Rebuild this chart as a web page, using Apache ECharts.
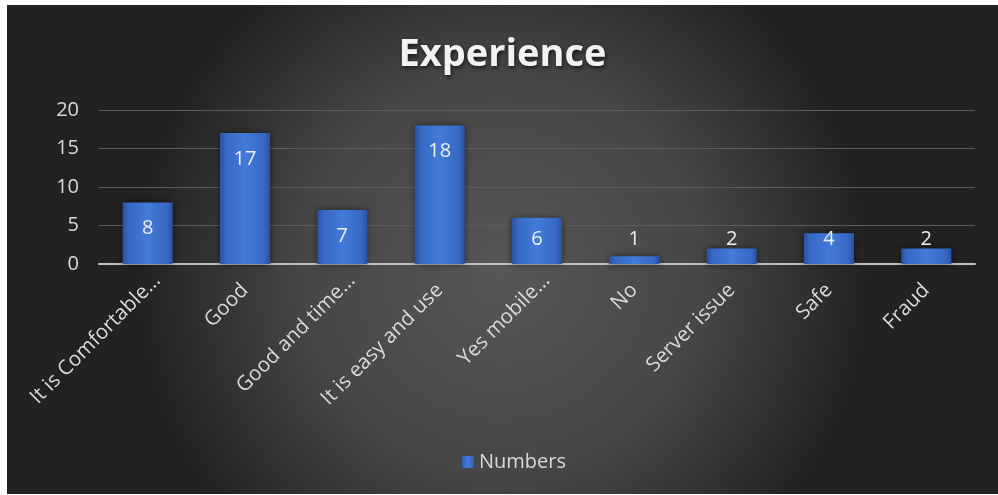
<!DOCTYPE html>
<html>
<head>
<meta charset="utf-8">
<script src="https://cdn.jsdelivr.net/npm/echarts@6/dist/echarts.min.js"></script>
<style>
  html, body { margin: 0; padding: 0; background: #ffffff; }
  #chart { position: absolute; left: 7px; top: 5px; width: 991px; height: 489px; }
</style>
</head>
<body>
<div id="chart"></div>
<script>
// Survey responses: reported experience
const categories = [
  'It is Comfortable\u2026',
  'Good',
  'Good and time\u2026',
  'It is easy and use',
  'Yes mobile\u2026',
  'No',
  'Server issue',
  'Safe',
  'Fraud'
];
const numbers = [8, 17, 7, 18, 6, 1, 2, 4, 2];
const yTicks = [0, 5, 10, 15, 20];

const FONT = '"Open Sans", "DejaVu Sans", sans-serif';
const TEXT = '#d9d9d9';

const gridTop = 105;
const gridBottom = 230;
const chartHeight = 489;
const yMax = yTicks[yTicks.length - 1];
const pxPerUnit = (chartHeight - gridTop - gridBottom) / yMax;

// Value labels sit just inside the bar top; on short bars they stay at a fixed height above the axis
function labelFor(v) {
  const h = v * pxPerUnit;
  const y = Math.min(26, h - 25);
  return {
    position: ['50%', y],
    align: 'center',
    verticalAlign: 'middle'
  };
}

// Shortened (ellipsized) category names are nudged a little to the right
function categoryItem(name) {
  if (name.endsWith('\u2026')) {
    return { value: name, textStyle: { padding: [27, -13.5, 0, 0] } };
  }
  return name;
}

const barFill = new echarts.graphic.LinearGradient(0, 0, 1, 0, [
  { offset: 0, color: '#2a52a0' },
  { offset: 0.12, color: '#3768c4' },
  { offset: 0.5, color: '#437bd9' },
  { offset: 0.88, color: '#3768c4' },
  { offset: 1, color: '#2a52a0' }
]);

const chart = echarts.init(document.getElementById('chart'));
chart.setOption({
  backgroundColor: new echarts.graphic.RadialGradient(0.5, 0.55, 0.75, [
    { offset: 0, color: '#575757' },
    { offset: 0.55, color: '#464646' },
    { offset: 1, color: '#222222' }
  ]),
  title: {
    text: 'Experience',
    left: 'center',
    top: 26,
    textStyle: {
      fontFamily: FONT,
      fontSize: 38,
      fontWeight: 'bold',
      color: '#f2f2f2',
      textShadowColor: 'rgba(0,0,0,0.65)',
      textShadowBlur: 4,
      textShadowOffsetX: 1,
      textShadowOffsetY: 2
    }
  },
  legend: {
    bottom: 17,
    left: 450,
    icon: 'rect',
    itemWidth: 12,
    itemHeight: 12,
    itemGap: 6,
    textStyle: { fontFamily: FONT, fontSize: 20, color: TEXT },
    data: ['Numbers']
  },
  grid: {
    left: 92,
    right: 23,
    top: gridTop,
    bottom: gridBottom,
    containLabel: false
  },
  xAxis: {
    type: 'category',
    data: categories.map(categoryItem),
    axisLine: { show: true, lineStyle: { color: '#bfbfbf', width: 2 } },
    axisTick: { show: false },
    axisLabel: {
      rotate: 45,
      interval: 0,
      margin: 23,
      fontFamily: FONT,
      fontSize: 20.5,
      color: TEXT
    }
  },
  yAxis: {
    type: 'value',
    min: 0,
    max: yMax,
    interval: 5,
    axisLine: { show: false },
    axisTick: { show: false },
    axisLabel: {
      margin: 20,
      fontFamily: FONT,
      fontSize: 20,
      color: TEXT
    },
    splitLine: { lineStyle: { color: '#5c5c5c', width: 1 } }
  },
  series: [{
    name: 'Numbers',
    type: 'bar',
    barWidth: 50,
    data: numbers.map(v => ({ value: v, label: labelFor(v) })),
    itemStyle: {
      color: barFill,
      shadowColor: 'rgba(0,0,0,0.55)',
      shadowBlur: 7,
      shadowOffsetX: 0,
      shadowOffsetY: 0
    },
    label: {
      show: true,
      fontFamily: FONT,
      fontSize: 20,
      color: '#eeeeee'
    }
  }]
});
</script>
</body>
</html>
